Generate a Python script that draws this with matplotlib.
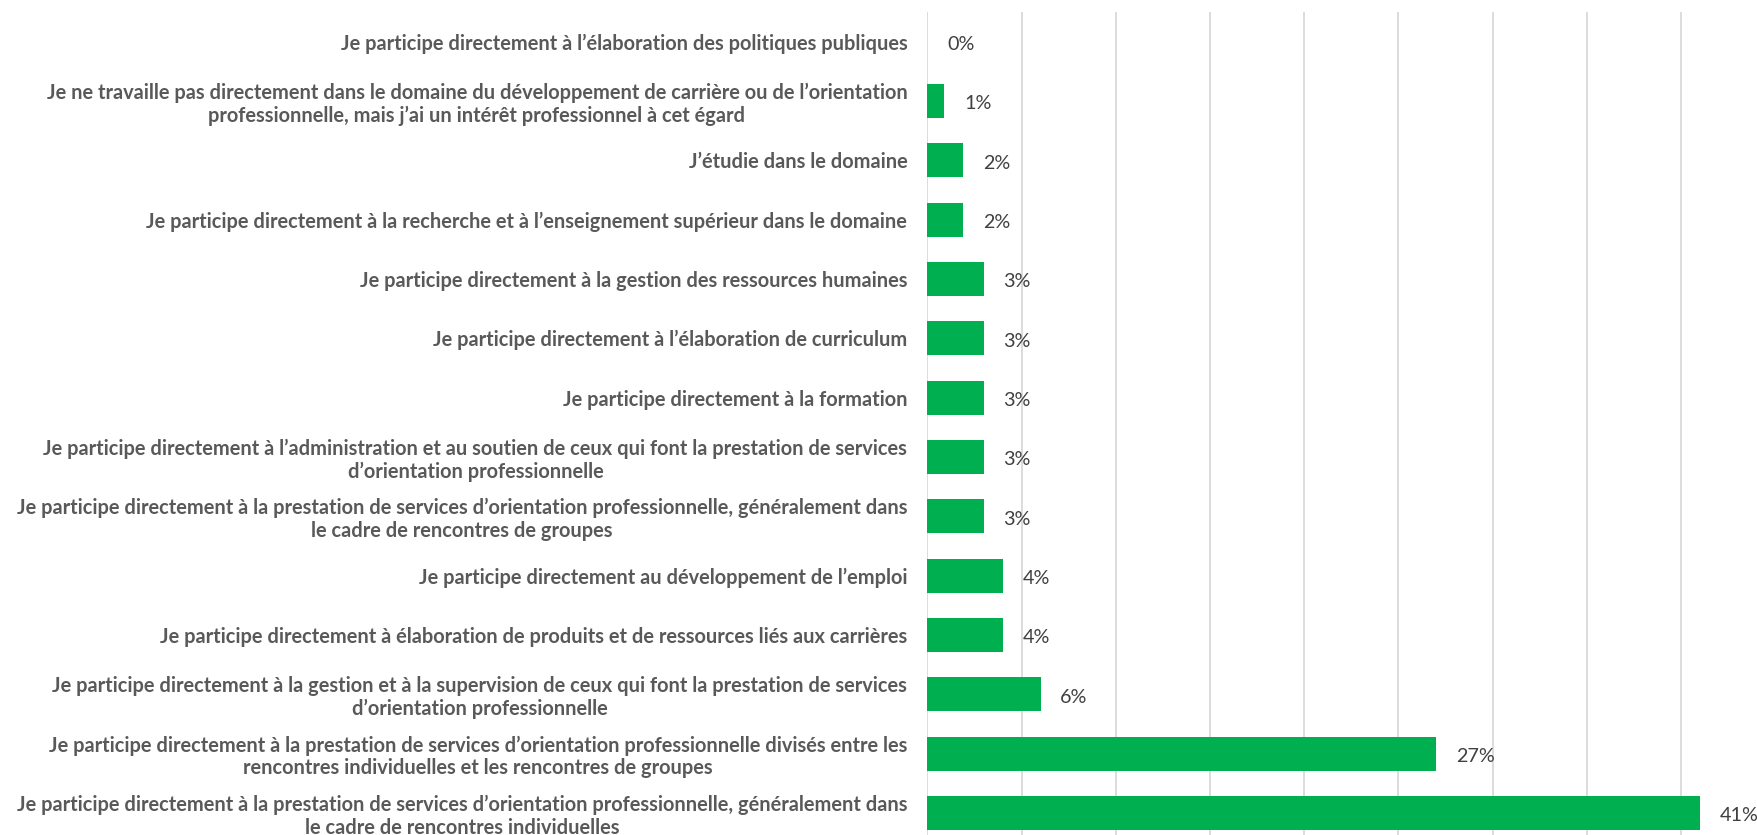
import matplotlib
matplotlib.use("Agg")
import matplotlib.pyplot as plt

categories = [
    "Je participe directement à l’élaboration des politiques publiques",
    "Je ne travaille pas directement dans le domaine du développement de carrière ou de l’orientation\nprofessionnelle, mais j’ai un intérêt professionnel à cet égard",
    "J’étudie dans le domaine",
    "Je participe directement à la recherche et à l’enseignement supérieur dans le domaine",
    "Je participe directement à la gestion des ressources humaines",
    "Je participe directement à l’élaboration de curriculum",
    "Je participe directement à la formation",
    "Je participe directement à l’administration et au soutien de ceux qui font la prestation de services\nd’orientation professionnelle",
    "Je participe directement à la prestation de services d’orientation professionnelle, généralement dans\nle cadre de rencontres de groupes",
    "Je participe directement au développement de l’emploi",
    "Je participe directement à élaboration de produits et de ressources liés aux carrières",
    "Je participe directement à la gestion et à la supervision de ceux qui font la prestation de services\nd’orientation professionnelle",
    "Je participe directement à la prestation de services d’orientation professionnelle divisés entre les\nrencontres individuelles et les rencontres de groupes",
    "Je participe directement à la prestation de services d’orientation professionnelle, généralement dans\nle cadre de rencontres individuelles",
]
values = [0.0, 0.9, 1.9, 1.9, 3.0, 3.0, 3.0, 3.0, 3.0, 4.0, 4.0, 6.0, 27.0, 41.0]
value_labels = ["0%", "1%", "2%", "2%", "3%", "3%", "3%", "3%", "3%", "4%", "4%", "6%", "27%", "41%"]
grid_ticks = [0, 5, 10, 15, 20, 25, 30, 35, 40, 45]

W, H = 1758, 835
fig = plt.figure(figsize=(W / 100, H / 100), dpi=100)
ax = fig.add_axes([927.5 / W, 1 - 842.7 / H, 847.8 / W, 830.7 / H])

y = list(range(len(categories)))
ax.barh(y, values, height=0.575, color="#00B050", zorder=3)
ax.set_xlim(0, 45)
ax.set_ylim(len(categories) - 0.5, -0.5)
ax.set_xticks(grid_ticks)
ax.xaxis.grid(True, color="#D9D9D9", linewidth=1.3, zorder=0)
ax.tick_params(axis="x", length=0, labelbottom=False)
ax.tick_params(axis="y", length=0, pad=14.5)
for s in ax.spines.values():
    s.set_visible(False)

ax.set_yticks(y)
ax.set_yticklabels(categories, fontsize=14.45, fontweight="bold", color="#595959",
                   family=["Lato", "DejaVu Sans"], linespacing=1.15)
for lab in ax.get_yticklabels():
    lab.set_multialignment("center")

for yi, v, t in zip(y, values, value_labels):
    ax.annotate(t, xy=(v, yi), xytext=(14, -2), textcoords="offset points",
                ha="left", va="center", fontsize=14.2, color="#404040",
                family=["Lato", "DejaVu Sans"])

fig.savefig("out.png", dpi=100)
